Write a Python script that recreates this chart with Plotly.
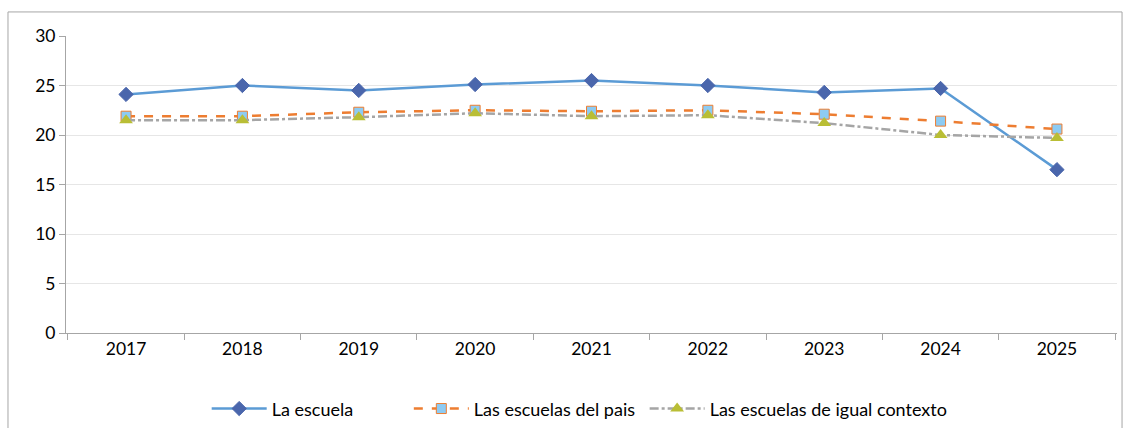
import plotly.graph_objects as go

years = ["2017", "2018", "2019", "2020", "2021", "2022", "2023", "2024", "2025"]
la_escuela = [24.1, 25.0, 24.5, 25.1, 25.5, 25.0, 24.3, 24.7, 16.5]
escuelas_pais = [21.9, 21.9, 22.3, 22.5, 22.4, 22.5, 22.1, 21.4, 20.6]
igual_contexto = [21.5, 21.5, 21.8, 22.2, 21.9, 22.0, 21.2, 20.0, 19.7]

font_family = "Lato, Carlito, Calibri, sans-serif"
nbsp = "\u00a0"

fig = go.Figure()

fig.add_trace(
    go.Scatter(
        x=years,
        y=la_escuela,
        name="La escuela" + nbsp * 11,
        mode="lines+markers",
        line={"color": "#5B9BD5", "width": 2.5},
        marker={"symbol": "diamond", "size": 11, "color": "#4A66AC",
                "line": {"color": "#4A66AC", "width": 1}},
    )
)
fig.add_trace(
    go.Scatter(
        x=years,
        y=escuelas_pais,
        name="Las escuelas del pais" + nbsp,
        mode="lines+markers",
        line={"color": "#ED7D31", "width": 2.5, "dash": "dash"},
        marker={"symbol": "square", "size": 10, "color": "#8DCBF3",
                "line": {"color": "#ED7D31", "width": 1}},
    )
)
fig.add_trace(
    go.Scatter(
        x=years,
        y=igual_contexto,
        name="Las escuelas de igual contexto",
        mode="lines+markers",
        line={"color": "#A5A5A5", "width": 2.5, "dash": "dashdot"},
        marker={"symbol": "triangle-up", "size": 12, "color": "#B9BE35",
                "line": {"color": "#B9BE35", "width": 0}},
    )
)

# chart frame
fig.add_shape(
    type="rect",
    xref="paper", yref="paper",
    x0=-0.0552, x1=1.0048, y0=-0.35, y1=1.081,
    line={"color": "#A6A6A6", "width": 1},
    layer="below",
)

fig.update_layout(
    width=1130,
    height=428,
    margin={"l": 66, "r": 13, "t": 36, "b": 95, "autoexpand": False},
    paper_bgcolor="white",
    plot_bgcolor="white",
    font={"family": font_family, "size": 17.5, "color": "#000000"},
    showlegend=True,
    legend={
        "orientation": "h",
        "x": 0.513,
        "xref": "container",
        "xanchor": "center",
        "y": 0.088,
        "yref": "container",
        "yanchor": "top",
        "font": {"size": 18},
        "itemwidth": 55,
    },
    xaxis={
        "type": "category",
        "showgrid": False,
        "showline": True,
        "linecolor": "#A6A6A6",
        "ticks": "outside",
        "tickson": "boundaries",
        "ticklen": 6,
        "tickcolor": "#A6A6A6",
        "zeroline": False,
        "automargin": False,
    },
    yaxis={
        "range": [0, 30],
        "dtick": 5,
        "showgrid": True,
        "gridcolor": "#E6E6E6",
        "showline": True,
        "linecolor": "#A6A6A6",
        "ticks": "outside",
        "ticklen": 6,
        "tickcolor": "#A6A6A6",
        "zeroline": False,
        "automargin": False,
    },
)

fig.write_html("out.html", config={"displayModeBar": False},
               post_script="document.body.style.margin='0';")
